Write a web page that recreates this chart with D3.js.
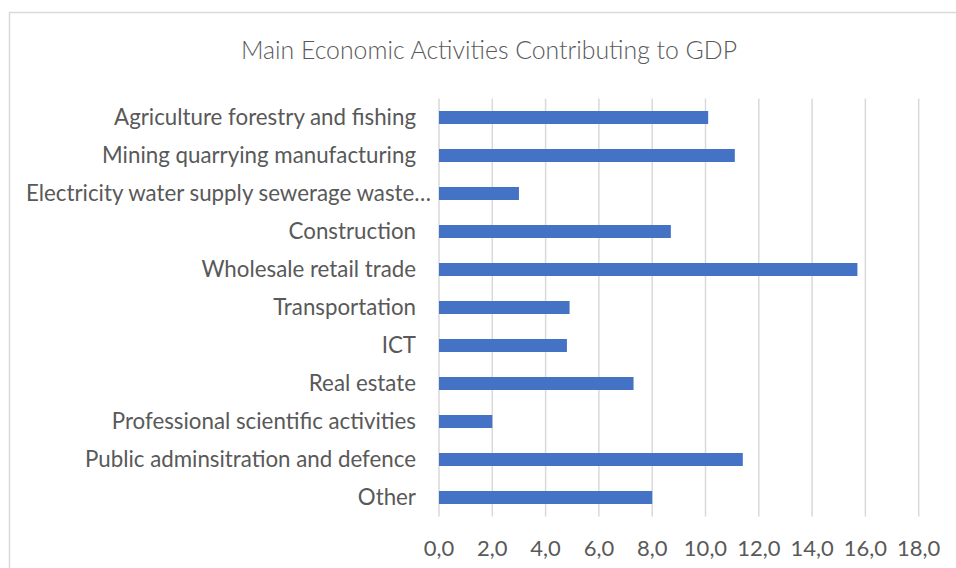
<!DOCTYPE html>
<html>
<head>
<meta charset="utf-8">
<script src="https://cdn.jsdelivr.net/npm/d3@7/dist/d3.min.js"></script>
<style>
  body { margin: 0; background: #fff; }
  text { font-family: Lato, "Open Sans", sans-serif; fill: #595959; }
</style>
</head>
<body>
<div id="chart"></div>
<script>
  var categories = [
    "Agriculture forestry and fishing",
    "Mining quarrying manufacturing",
    "Electricity water supply sewerage waste\u2026",
    "Construction",
    "Wholesale retail trade",
    "Transportation",
    "ICT",
    "Real estate",
    "Professional scientific activities",
    "Public adminsitration and defence",
    "Other"
  ];
  var values = [10.1, 11.1, 3.0, 8.7, 15.7, 4.9, 4.8, 7.3, 2.0, 11.4, 8.0];
  var tickValues = [0, 2, 4, 6, 8, 10, 12, 14, 16, 18];
  var title = "Main Economic Activities Contributing to GDP";

  var width = 956, height = 568;
  var svg = d3.select("#chart").append("svg")
    .attr("width", width).attr("height", height);

  // chart frame (right/bottom edges fall outside the picture)
  svg.append("rect")
    .attr("x", 9.5).attr("y", 12.5)
    .attr("width", 960).attr("height", 570)
    .style("fill", "none").style("stroke", "#d9d9d9").style("stroke-width", 1.5);

  var x = d3.scaleLinear().domain([0, 18]).range([439, 918.7]);
  var y = d3.scaleBand().domain(categories).range([98.5, 516.5])
    .paddingInner(0.658).paddingOuter(0.329);

  // gridlines
  svg.selectAll("line.grid").data(tickValues).enter().append("line")
    .attr("class", "grid")
    .attr("x1", function(d) { return x(d); })
    .attr("x2", function(d) { return x(d); })
    .attr("y1", y.range()[0]).attr("y2", y.range()[1])
    .style("stroke", "#d9d9d9").style("stroke-width", 1.5);

  // bars
  svg.selectAll("rect.bar").data(values).enter().append("rect")
    .attr("class", "bar")
    .attr("x", x(0))
    .attr("y", function(d, i) { return y(categories[i]); })
    .attr("width", function(d) { return x(d) - x(0); })
    .attr("height", y.bandwidth())
    .style("fill", "#4472c4");

  // category labels
  svg.selectAll("text.cat").data(categories).enter().append("text")
    .attr("class", "cat")
    .attr("x", function(d) { return d.slice(-1) === "\u2026" ? 431 : 416; })
    .attr("y", function(d) { return y(d) + y.bandwidth() / 2; })
    .attr("dy", "0.35em")
    .attr("text-anchor", "end")
    .style("font-size", "22.3px")
    .text(function(d) { return d; });

  // x tick labels
  svg.selectAll("text.tick").data(tickValues).enter().append("text")
    .attr("class", "tick")
    .attr("x", function(d) { return x(d); })
    .attr("y", 548)
    .attr("dy", "0.35em")
    .attr("text-anchor", "middle")
    .style("font-size", "22px")
    .text(function(d) { return d.toFixed(1).replace(".", ","); });

  svg.append("text")
    .attr("x", 489).attr("y", 50)
    .attr("dy", "0.35em")
    .attr("text-anchor", "middle")
    .style("font-size", "24.8px")
    .style("font-weight", 300)
    .text(title);
</script>
</body>
</html>
